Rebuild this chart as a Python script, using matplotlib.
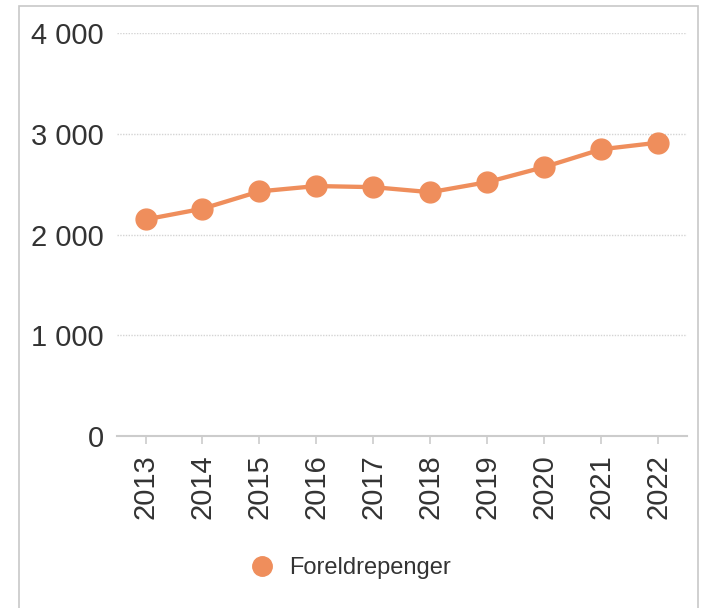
import matplotlib.pyplot as plt
from matplotlib.patches import Rectangle

# Data
years = ['2013', '2014', '2015', '2016', '2017', '2018', '2019', '2020', '2021', '2022']
foreldrepenger = [2149, 2256, 2428, 2481, 2470, 2420, 2520, 2670, 2846, 2912]
yticks = [0, 1000, 2000, 3000, 4000]
ytick_labels = ['0', '1 000', '2 000', '3 000', '4 000']

orange = '#EF8E5C'
text_col = '#333333'

plt.rcParams['font.family'] = ['Liberation Sans', 'DejaVu Sans']

fig = plt.figure(figsize=(7.07, 6.08), dpi=100)
ax = fig.add_axes([0.1655, 0.2829, 0.806, 0.6628])

# Frame around the chart
fig.patches.append(Rectangle((19 / 707, -0.01), (698 - 19) / 707, 1 - 6 / 608 + 0.01,
                             transform=fig.transFigure, fill=False,
                             edgecolor='#c8c8c8', linewidth=1.2))

x = list(range(len(years)))
ax.plot(x, foreldrepenger, color=orange, linewidth=3.1, marker='o',
        markersize=15, label='Foreldrepenger', zorder=3)

ax.set_xlim(-0.5, len(years) - 0.5)
ax.set_ylim(0, 4000)
ax.set_xticks(x)
ax.set_xticklabels(years, rotation=90, fontsize=21, color=text_col)
ax.set_yticks(yticks)
ax.set_yticklabels(ytick_labels, fontsize=21, color=text_col)

ax.tick_params(axis='y', length=0, pad=9.5)
ax.tick_params(axis='x', length=6, width=1.2, color='#cccccc', pad=7)

ax.grid(axis='y', color='#d4d4d4', linestyle=(0, (1, 1)), linewidth=1)
ax.set_axisbelow(True)
for s in ['top', 'right', 'left']:
    ax.spines[s].set_visible(False)
ax.spines['bottom'].set_color('#cccccc')
ax.spines['bottom'].set_linewidth(1.5)

handle = plt.Line2D([], [], color=orange, marker='o', linestyle='none', markersize=14)
fig.legend([handle], ['Foreldrepenger'], loc='center',
           bbox_to_anchor=(0.5 - 9 / 707, 1 - 568 / 608),
           frameon=False, fontsize=17, labelcolor=text_col, handletextpad=0.15)

fig.savefig('out.png', dpi=100)
